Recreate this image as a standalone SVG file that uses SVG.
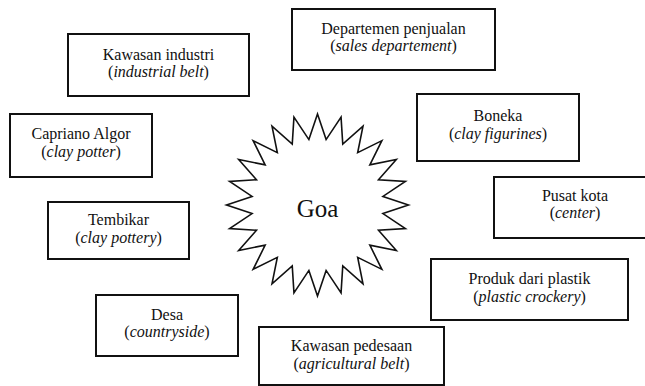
<svg xmlns="http://www.w3.org/2000/svg" width="645" height="386" viewBox="0 0 645 386">
<style>
.box{fill:#fff;stroke:#111;stroke-width:2}
.star{fill:#fff;stroke:#111;stroke-width:1.6;stroke-linejoin:miter}
text{font-family:'Liberation Serif','Times New Roman',serif;font-size:16px;fill:#111;text-anchor:middle}
.i{font-style:italic}
.goa{font-size:25px}
</style>
<rect width="645" height="386" fill="#fff"/>
<g id="connectors"></g>
<g id="goa">
<polygon class="star" points="317.5,114 326.11,139.57 341.05,117.10 342.76,144.02 363.0,126.19 357.68,152.64 381.85,140.65 369.86,164.82 396.31,159.5 378.48,179.74 405.40,181.45 382.93,196.39 408.5,205 382.93,213.61 405.40,228.55 378.48,230.26 396.31,250.5 369.86,245.18 381.85,269.35 357.68,257.36 363.0,283.81 342.76,265.98 341.05,292.90 326.11,270.43 317.5,296 308.89,270.43 293.95,292.90 292.24,265.98 272.0,283.81 277.32,257.36 253.15,269.35 265.14,245.18 238.69,250.5 256.52,230.26 229.60,228.55 252.07,213.61 226.5,205 252.07,196.39 229.60,181.45 256.52,179.74 238.69,159.5 265.14,164.82 253.15,140.65 277.32,152.64 272.0,126.19 292.24,144.02 293.95,117.10 308.89,139.57"/>
<text class="goa" x="317.5" y="216.5">Goa</text>
</g>
<g id="kawasan-industri">
<rect class="box" x="68" y="34" width="181" height="62"/>
<text x="158.5" y="59.5">Kawasan industri</text>
<text x="158.5" y="77">(<tspan class="i">industrial belt</tspan>)</text>
</g>
<g id="departemen-penjualan">
<rect class="box" x="292" y="9" width="203" height="61"/>
<text x="393.5" y="33.5">Departemen penjualan</text>
<text x="393.5" y="51">(<tspan class="i">sales departement</tspan>)</text>
</g>
<g id="capriano-algor">
<rect class="box" x="10" y="114" width="142" height="63"/>
<text x="81" y="139">Capriano Algor</text>
<text x="81" y="156.5">(<tspan class="i">clay potter</tspan>)</text>
</g>
<g id="boneka">
<rect class="box" x="417" y="94" width="162" height="67"/>
<text x="498" y="121">Boneka</text>
<text x="498" y="138.5">(<tspan class="i">clay figurines</tspan>)</text>
</g>
<g id="tembikar">
<rect class="box" x="48" y="202" width="141" height="57"/>
<text x="118.5" y="225">Tembikar</text>
<text x="118.5" y="242.5">(<tspan class="i">clay pottery</tspan>)</text>
</g>
<g id="pusat-kota">
<rect class="box" x="494" y="177" width="162" height="61"/>
<text x="575" y="201">Pusat kota</text>
<text x="575" y="218">(<tspan class="i">center</tspan>)</text>
</g>
<g id="produk-dari-plastik">
<rect class="box" x="431" y="259" width="197" height="61"/>
<text x="529.5" y="284">Produk dari plastik</text>
<text x="529.5" y="301.5">(<tspan class="i">plastic crockery</tspan>)</text>
</g>
<g id="desa">
<rect class="box" x="96" y="295" width="142" height="61"/>
<text x="167" y="319.5">Desa</text>
<text x="167" y="337">(<tspan class="i">countryside</tspan>)</text>
</g>
<g id="kawasan-pedesaan">
<rect class="box" x="259" y="327" width="185" height="58"/>
<text x="351.5" y="351">Kawasan pedesaan</text>
<text x="351.5" y="368.5">(<tspan class="i">agricultural belt</tspan>)</text>
</g>
</svg>
